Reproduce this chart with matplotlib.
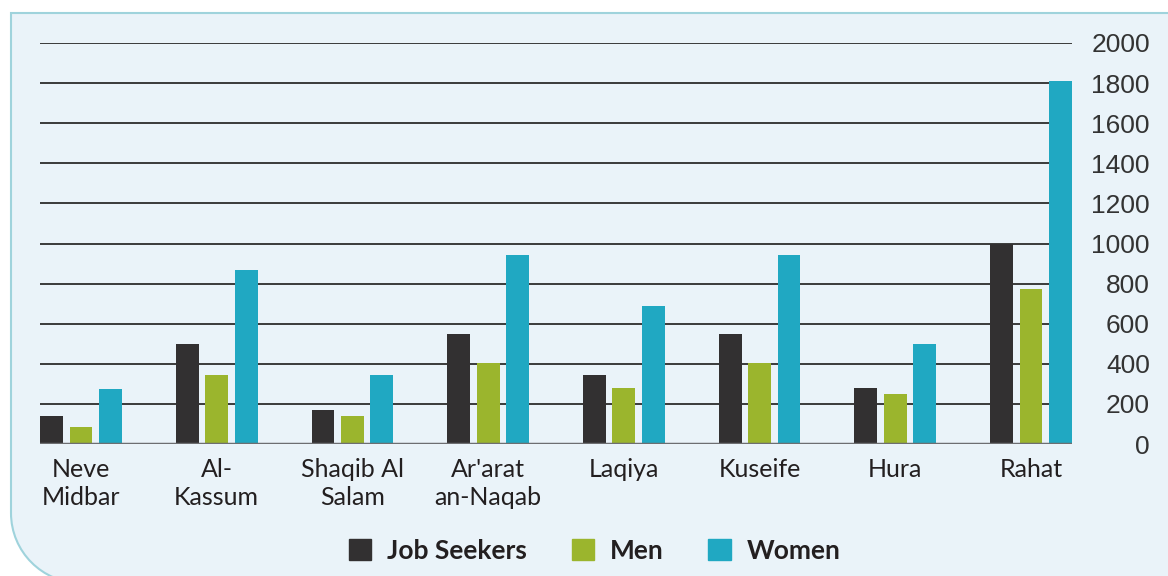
import matplotlib.pyplot as plt
import numpy as np
from matplotlib.path import Path
from matplotlib.patches import PathPatch, Patch

# data
towns = ["Neve\nMidbar", "Al-\nKassum", "Shaqib Al\nSalam", "Ar'arat\nan-Naqab",
         "Laqiya", "Kuseife", "Hura", "Rahat"]
job_seekers = [140, 500, 170, 550, 345, 550, 280, 1000]
men = [85, 345, 140, 405, 280, 405, 250, 775]
women = [275, 870, 345, 945, 690, 945, 500, 1810]
yticks = list(range(0, 2001, 200))

c_job = "#323031"
c_men = "#9bb52d"
c_women = "#20a8c2"
txt = "#231f20"

fig = plt.figure(figsize=(11.68, 5.76), dpi=100, facecolor="white")

# background panel with rounded bottom-left corner (pixel coords)
bg = fig.add_axes([0, 0, 1, 1], zorder=-1)
bg.set_xlim(0, 1168)
bg.set_ylim(576, 0)
bg.axis("off")
k = 0.5523 * 70
verts = [(1200, 13), (11, 13), (11, 513), (11, 513 + k), (81 - k, 583), (81, 583),
         (1200, 583), (1200, 13)]
codes = [Path.MOVETO, Path.LINETO, Path.LINETO, Path.CURVE4, Path.CURVE4, Path.CURVE4,
         Path.LINETO, Path.CLOSEPOLY]
bg.add_patch(PathPatch(Path(verts, codes), facecolor="#eaf3f9", edgecolor="#9fd3dc", lw=1.5))

ax = fig.add_axes([40 / 1168, 1 - 444 / 576, 1032 / 1168, 401 / 576])
ax.set_facecolor("none")

x = np.arange(len(towns))
w = 0.169
step = 0.217
ax.bar(x - step, job_seekers, w, color=c_job, zorder=3)
ax.bar(x, men, w, color=c_men, zorder=3)
ax.bar(x + step, women, w, color=c_women, zorder=3)

for t in yticks[1:]:
    ax.axhline(t, color="#3a3a3a", lw=1.4, zorder=1)
ax.axhline(0, color="#6d6e71", lw=2.5, zorder=4)

ax.set_xlim(-0.302, len(towns) - 1 + 0.302)
ax.set_ylim(0, 2000)
for s in ax.spines.values():
    s.set_visible(False)

ax.yaxis.tick_right()
ax.set_yticks(yticks)
ax.set_yticklabels([str(t) for t in yticks], fontsize=19, color="#333333",
                   family=["Liberation Sans Narrow", "Liberation Sans"])
for lab in ax.get_yticklabels():
    lab.set_horizontalalignment("right")
ax.tick_params(axis="y", length=0, pad=56)

ax.set_xticks(x)
ax.set_xticklabels(towns, fontsize=18, color=txt, family="Lato", linespacing=1.25)
ax.tick_params(axis="x", length=0, pad=10)

handles = [Patch(color=c_job, label="Job Seekers"),
           Patch(color=c_men, label="Men"),
           Patch(color=c_women, label="Women")]
fig.legend(handles=handles, loc="center", bbox_to_anchor=(0.509, 0.044), ncol=3,
           frameon=False, handlelength=0.85, handleheight=0.85, handletextpad=0.6,
           columnspacing=1.7, prop={"family": "Lato", "weight": "bold", "size": 19},
           labelcolor=txt)

plt.savefig("out.png", dpi=100, facecolor="white")
